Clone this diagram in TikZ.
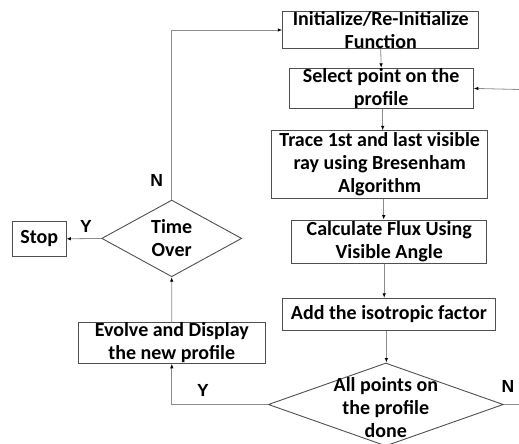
\documentclass[tikz,border=0pt]{standalone}
\usepackage{fontspec}
\setmainfont{Carlito}
\newfontfamily\lblfont{Liberation Sans}
\usetikzlibrary{shapes.geometric,arrows.meta}
\definecolor{boxline}{HTML}{505050}
\definecolor{conn}{HTML}{8C8C8C}
\tikzset{
  stepbox/.style={draw=boxline, line width=0.9pt, rectangle, inner sep=0pt, align=center,
    font=\fontsize{20}{23}\selectfont\bfseries},
  decision/.style={draw=boxline, line width=0.9pt, diamond, inner sep=0pt},
  dlabel/.style={align=center, font=\fontsize{20}{23}\selectfont\bfseries},
  conn/.style={draw=conn, line width=0.8pt},
  arr/.style={conn, -{Latex[length=4.5pt,width=3.5pt,color=black]}},
  yn/.style={font=\lblfont\fontsize{17.5}{19}\selectfont\bfseries}
}
\begin{document}
\begin{tikzpicture}[x=1pt,y=-1pt]
\useasboundingbox (0,0) rectangle (519,444);
\node[stepbox, minimum width=196pt, minimum height=36.6pt] (init) at (380.7,30) {Initialize/Re-Initialize\\Function};
\node[stepbox, minimum width=184.3pt, minimum height=35.3pt] (select) at (381.2,88.4) {Select point on the\\profile};
\node[stepbox, minimum width=216pt, minimum height=67.3pt] (trace) at (379.7,164.4) {Trace 1st and last visible\\ray using Bresenham\\Algorithm};
\node[stepbox, minimum width=195pt, minimum height=43.3pt] (calc) at (389.2,241.7) {Calculate Flux Using\\Visible Angle};
\node[stepbox, minimum width=212.3pt, minimum height=31.7pt] (add) at (388.9,314.2) {Add the isotropic factor};
\node[stepbox, minimum width=187pt, minimum height=40.6pt] (evolve) at (171.8,343) {Evolve and Display\\the new profile};
\node[stepbox, minimum width=53.3pt, minimum height=34.3pt] (stop) at (39.3,238.8) {Stop};
\node[decision, minimum width=140pt, minimum height=76.7pt,
  label={[dlabel]center:Time\\Over}] (d1) at (171.7,238.4) {};
\node[decision, minimum width=235pt, minimum height=83pt,
  label={[dlabel, yshift=-3pt]center:All points on\\the profile\\done}] (d2) at (385.8,404.5) {};
\coordinate (rlow) at (519,404.5);
\coordinate (rhigh) at (519,89.5);
\draw[arr] (init.south) -- (select.north);
\draw[arr] ([xshift=1.5pt]select.south) -- ([xshift=1.5pt]select.south |- trace.north);
\draw[arr] ([xshift=4pt]trace.south) -- ([xshift=4pt]trace.south |- calc.north);
\draw[arr] ([xshift=-5pt]calc.south) -- ([xshift=-5pt]calc.south |- add.north);
\draw[arr] ([xshift=-2.5pt]add.south) -- ([xshift=-2.5pt]add.south |- d2.north);
\draw[arr] (d2.west) -| (evolve.south);
\draw[arr] (evolve.north) -- (d1.south);
\draw[arr] (d1.west) -- (stop.east);
\draw[arr] (d1.north) |- (init.west);
\draw[conn] (d2.east) -- (rlow);
\draw[arr] (rhigh) -- (select.east);
\node[yn] at (156.7,180) {N};
\node[yn] at (86,226) {Y};
\node[yn] at (203,390) {Y};
\node[yn] at (508,386) {N};
\end{tikzpicture}
\end{document}
